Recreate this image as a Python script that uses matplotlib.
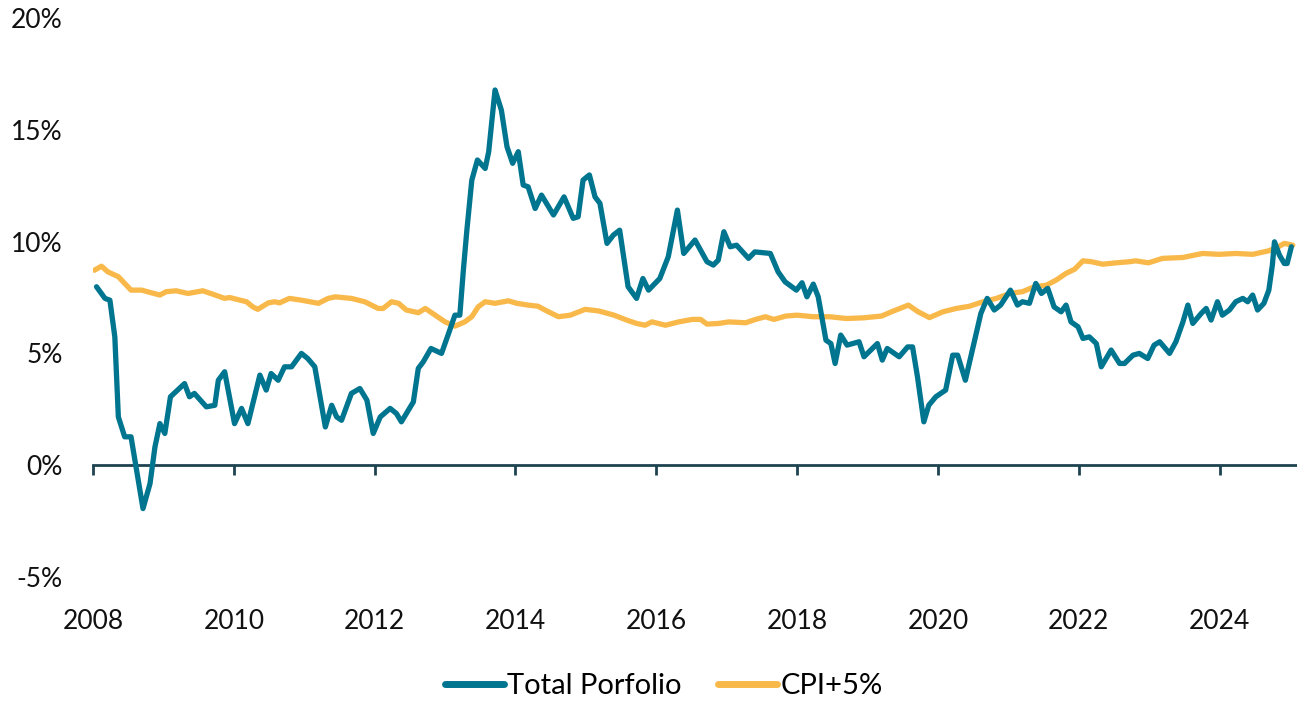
import matplotlib
matplotlib.use("Agg")
import matplotlib.pyplot as plt
from matplotlib.ticker import FuncFormatter

plt.rcParams['font.family'] = ['Lato', 'DejaVu Sans']

# Total Portfolio (decimal year, % value)
port_x = [2008.05, 2008.17, 2008.24, 2008.31, 2008.36, 2008.45, 2008.54, 2008.71, 2008.81, 2008.88,
          2008.95, 2009.02, 2009.10, 2009.30, 2009.37, 2009.44, 2009.61, 2009.73, 2009.78, 2009.87,
          2010.01, 2010.11, 2010.20, 2010.37, 2010.46, 2010.53, 2010.63, 2010.72, 2010.82, 2010.96,
          2011.05, 2011.15, 2011.30, 2011.39, 2011.46, 2011.53, 2011.67, 2011.79, 2011.89, 2011.98,
          2012.08, 2012.22, 2012.31, 2012.38, 2012.55, 2012.62, 2012.69, 2012.80, 2012.95, 2013.05,
          2013.14, 2013.21, 2013.26, 2013.31, 2013.38, 2013.46, 2013.57, 2013.62, 2013.71, 2013.80,
          2013.88, 2013.96, 2014.04, 2014.11, 2014.18, 2014.28, 2014.37, 2014.54, 2014.69, 2014.82,
          2014.89, 2014.96, 2015.05, 2015.13, 2015.20, 2015.30, 2015.39, 2015.48, 2015.60, 2015.72,
          2015.81, 2015.89, 2016.05, 2016.17, 2016.30, 2016.39, 2016.55, 2016.72, 2016.81, 2016.88,
          2016.96, 2017.05, 2017.14, 2017.31, 2017.40, 2017.62, 2017.73, 2017.83, 2017.99, 2018.07,
          2018.14, 2018.23, 2018.30, 2018.41, 2018.48, 2018.54, 2018.62, 2018.71, 2018.88, 2018.95,
          2019.14, 2019.21, 2019.28, 2019.45, 2019.57, 2019.64, 2019.71, 2019.80, 2019.87, 2019.97,
          2020.11, 2020.21, 2020.28, 2020.39, 2020.49, 2020.61, 2020.70, 2020.80, 2020.89, 2021.03,
          2021.13, 2021.20, 2021.30, 2021.39, 2021.47, 2021.56, 2021.65, 2021.75, 2021.82, 2021.89,
          2021.99, 2022.06, 2022.15, 2022.25, 2022.32, 2022.46, 2022.58, 2022.65, 2022.77, 2022.86,
          2022.98, 2023.07, 2023.15, 2023.29, 2023.38, 2023.48, 2023.55, 2023.62, 2023.74, 2023.81,
          2023.88, 2023.97, 2024.04, 2024.14, 2024.23, 2024.33, 2024.40, 2024.47, 2024.54, 2024.63,
          2024.70, 2024.75, 2024.78, 2024.85, 2024.92, 2024.96, 2025.02]
port_y = [7.98, 7.46, 7.38, 5.74, 2.16, 1.27, 1.27, -1.94, -0.82, 0.82,
          1.86, 1.42, 3.06, 3.65, 3.06, 3.21, 2.61, 2.68, 3.80, 4.18,
          1.86, 2.54, 1.86, 4.03, 3.36, 4.10, 3.80, 4.40, 4.40, 5.00,
          4.77, 4.40, 1.71, 2.68, 2.16, 2.01, 3.21, 3.43, 2.91, 1.42,
          2.16, 2.54, 2.31, 1.94, 2.83, 4.33, 4.62, 5.22, 5.00, 5.89,
          6.71, 6.71, 8.72, 10.51, 12.75, 13.65, 13.27, 14.02, 16.78, 15.88,
          14.24, 13.50, 14.02, 12.53, 12.45, 11.48, 12.08, 11.19, 12.00, 11.04,
          11.11, 12.75, 12.98, 12.00, 11.71, 9.92, 10.29, 10.51, 7.98, 7.46,
          8.35, 7.83, 8.35, 9.32, 11.41, 9.47, 10.07, 9.10, 8.95, 9.17,
          10.44, 9.77, 9.84, 9.25, 9.54, 9.47, 8.65, 8.20, 7.83, 8.16,
          7.53, 8.10, 7.53, 5.59, 5.44, 4.55, 5.82, 5.37, 5.52, 4.85,
          5.44, 4.70, 5.22, 4.85, 5.29, 5.29, 3.95, 1.94, 2.68, 3.06,
          3.36, 4.92, 4.92, 3.80, 5.15, 6.79, 7.46, 6.94, 7.16, 7.83,
          7.16, 7.31, 7.24, 8.13, 7.68, 7.91, 7.08, 6.86, 7.16, 6.41,
          6.19, 5.67, 5.74, 5.44, 4.40, 5.15, 4.55, 4.55, 4.92, 5.00,
          4.77, 5.37, 5.52, 5.00, 5.52, 6.41, 7.16, 6.34, 6.79, 7.01,
          6.49, 7.31, 6.71, 6.94, 7.31, 7.46, 7.31, 7.61, 6.94, 7.24,
          7.83, 8.95, 9.99, 9.40, 9.02, 9.02, 9.77]

# CPI+5%
cpi_x = [2008.02, 2008.12, 2008.21, 2008.36, 2008.54, 2008.69, 2008.83, 2008.95, 2009.04, 2009.18,
         2009.35, 2009.56, 2009.70, 2009.87, 2009.94, 2010.18, 2010.27, 2010.34, 2010.49, 2010.58,
         2010.65, 2010.79, 2010.96, 2011.08, 2011.20, 2011.34, 2011.44, 2011.67, 2011.86, 2012.05,
         2012.12, 2012.24, 2012.34, 2012.45, 2012.62, 2012.72, 2012.86, 2013.00, 2013.14, 2013.28,
         2013.38, 2013.47, 2013.57, 2013.71, 2013.90, 2014.02, 2014.18, 2014.32, 2014.42, 2014.61,
         2014.78, 2014.99, 2015.18, 2015.40, 2015.58, 2015.72, 2015.84, 2015.94, 2016.13, 2016.32,
         2016.51, 2016.63, 2016.72, 2016.89, 2017.03, 2017.27, 2017.41, 2017.55, 2017.67, 2017.84,
         2018.00, 2018.23, 2018.46, 2018.70, 2018.94, 2019.20, 2019.34, 2019.46, 2019.58, 2019.72,
         2019.88, 2020.07, 2020.26, 2020.45, 2020.64, 2020.83, 2021.02, 2021.20, 2021.37, 2021.54,
         2021.68, 2021.82, 2021.94, 2022.06, 2022.18, 2022.34, 2022.53, 2022.72, 2022.81, 2022.99,
         2023.19, 2023.48, 2023.76, 2023.99, 2024.23, 2024.47, 2024.70, 2024.82, 2024.92, 2025.04]
cpi_y = [8.72, 8.90, 8.65, 8.43, 7.83, 7.83, 7.71, 7.61, 7.76, 7.80,
         7.68, 7.80, 7.65, 7.46, 7.50, 7.31, 7.08, 6.97, 7.26, 7.31,
         7.26, 7.46, 7.38, 7.31, 7.24, 7.46, 7.53, 7.46, 7.31, 7.01,
         7.01, 7.31, 7.24, 6.94, 6.82, 7.01, 6.71, 6.41, 6.22, 6.41,
         6.64, 7.08, 7.31, 7.24, 7.35, 7.24, 7.16, 7.11, 6.94, 6.64,
         6.71, 6.97, 6.90, 6.71, 6.49, 6.34, 6.26, 6.41, 6.26, 6.41,
         6.52, 6.52, 6.31, 6.34, 6.41, 6.37, 6.52, 6.64, 6.52, 6.67,
         6.71, 6.64, 6.64, 6.56, 6.59, 6.67, 6.86, 7.01, 7.16, 6.86,
         6.60, 6.86, 7.01, 7.11, 7.31, 7.46, 7.68, 7.76, 7.98, 8.05,
         8.28, 8.58, 8.76, 9.14, 9.10, 8.99, 9.05, 9.10, 9.14, 9.05,
         9.25, 9.29, 9.47, 9.43, 9.47, 9.43, 9.59, 9.74, 9.92, 9.84]

year_ticks = [2008, 2010, 2012, 2014, 2016, 2018, 2020, 2022, 2024]
pct_ticks = [-5, 0, 5, 10, 15, 20]

teal = "#00758F"
gold = "#F9B94A"
axis_col = "#1E4350"

fig = plt.figure(figsize=(12.97, 7.03), dpi=100)
ax = fig.add_axes([93 / 1297, 1 - 577 / 703, 1 - 93 / 1297, (577 - 18) / 703])

ax.plot(port_x, port_y, color=teal, lw=3.8, solid_joinstyle='round', solid_capstyle='round',
        label="Total Porfolio", zorder=3)
ax.plot(cpi_x, cpi_y, color=gold, lw=3.8, solid_joinstyle='round', solid_capstyle='round',
        label="CPI+5%", zorder=2)

ax.set_xlim(2008, 2025.1)
ax.set_ylim(-5, 20)

for s in ax.spines.values():
    s.set_visible(False)

ax.set_yticks(pct_ticks)
ax.yaxis.set_major_formatter(FuncFormatter(lambda v, p: f"{v:.0f}%"))
ax.tick_params(axis='y', length=0, pad=22, labelsize=19, labelcolor="#111111")

ax.set_xticks(year_ticks)
ax.tick_params(axis='x', length=0, pad=23, labelsize=19, labelcolor="#111111")

# x axis line crossing at 0%
sec = ax.secondary_xaxis(0.2)
sec.set_xticks(year_ticks)
sec.set_xticklabels([])
sec.spines['bottom'].set_color(axis_col)
sec.spines['bottom'].set_linewidth(2)
sec.tick_params(axis='x', direction='out', length=7, width=2, color=axis_col)

leg = fig.legend(loc='center', bbox_to_anchor=(0.5116, 1 - 686 / 703), ncol=2, frameon=False,
                 fontsize=21, handlelength=2.05, handletextpad=0.1, columnspacing=1.23)
for h in leg.get_lines():
    h.set_linewidth(5)

fig.savefig("out.png", dpi=100)
